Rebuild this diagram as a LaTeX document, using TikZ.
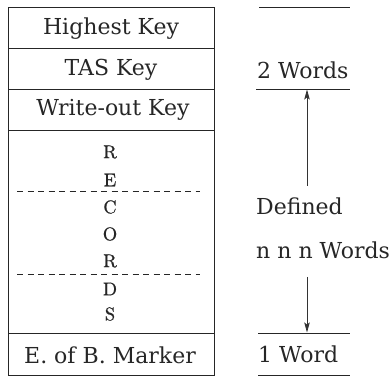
\documentclass[tikz,border=0pt]{standalone}
\usepackage{fontspec}
\setmainfont{DejaVu Serif}
\newfontfamily\lmfont[FakeBold=0.6]{lmroman10-regular.otf}
\usetikzlibrary{arrows.meta}
\begin{document}
\begin{tikzpicture}[x=1pt,y=-1pt,
  frame/.style={line width=0.9pt, draw=black!85},
  dash line/.style={line width=0.8pt, dash pattern=on 6pt off 4.5pt, draw=black!85},
  label/.style={font=\fontsize{22}{24}\selectfont, text=black!85, inner sep=0pt},
  letter/.style={font=\lmfont\fontsize{18.5}{20}\selectfont, text=black!85, inner sep=0pt},
  words/.style={font=\fontsize{22}{24}\selectfont, text=black!85, inner sep=0pt, anchor=west},
  rule/.style={line width=0.9pt, draw=black!85},
  span/.style={line width=0.8pt, draw=black!80, -{Stealth[length=10pt,width=5.5pt,inset=2pt]}}]
\useasboundingbox (0,0) rectangle (392,377);

% the stacked record block
\coordinate (tl) at (8,7);
\coordinate (br) at (214,375);
\draw[frame] (tl) rectangle (br);
\draw[frame] (8,48) -- (214,48);
\draw[frame] (8,89) -- (214,89);
\draw[frame] (8,130) -- (214,130);
\draw[frame] (8,333) -- (214,333);
\draw[dash line] (17,191) -- (200,191);
\draw[dash line] (17,274) -- (200,274);

\node[label] (hk) at (111,29) {Highest Key};
\node[label] (tas) at (111,70) {TAS Key};
\node[label] (wo) at (113,110) {Write-out Key};
\node[label] (eob) at (110,355) {E. of B. Marker};

\node[letter] (r1) at (110,152) {R};
\node[letter] (e1) at (110,180) {E};
\node[letter] (c1) at (110,207) {C};
\node[letter] (o1) at (110,234) {O};
\node[letter] (r2) at (110,261) {R};
\node[letter] (d1) at (110,289) {D};
\node[letter] (s1) at (110,314) {S};

% word counts on the right
\draw[rule] (259,7) -- (350,7);
\node[words] (two) at (257,70) {2 Words};
\coordinate (topL) at (256,89);
\coordinate (topR) at (350,89);
\draw[rule] (topL) -- (topR);
\node[words] (def) at (256,206) {Defined};
\node[words] (nnn) at (256,250) {n n n Words};
\coordinate (botL) at (258,333);
\coordinate (botR) at (350,333);
\draw[rule] (botL) -- (botR);
\node[words] (one) at (258,354) {1 Word};
\draw[rule] (258,375) -- (350,375);

\coordinate (upA) at (307,186);
\coordinate (upB) at (307,89.5);
\coordinate (dnA) at (307,277);
\coordinate (dnB) at (307,332.5);
\draw[span] (upA) -- (upB);
\draw[span] (dnA) -- (dnB);
\end{tikzpicture}
\end{document}
